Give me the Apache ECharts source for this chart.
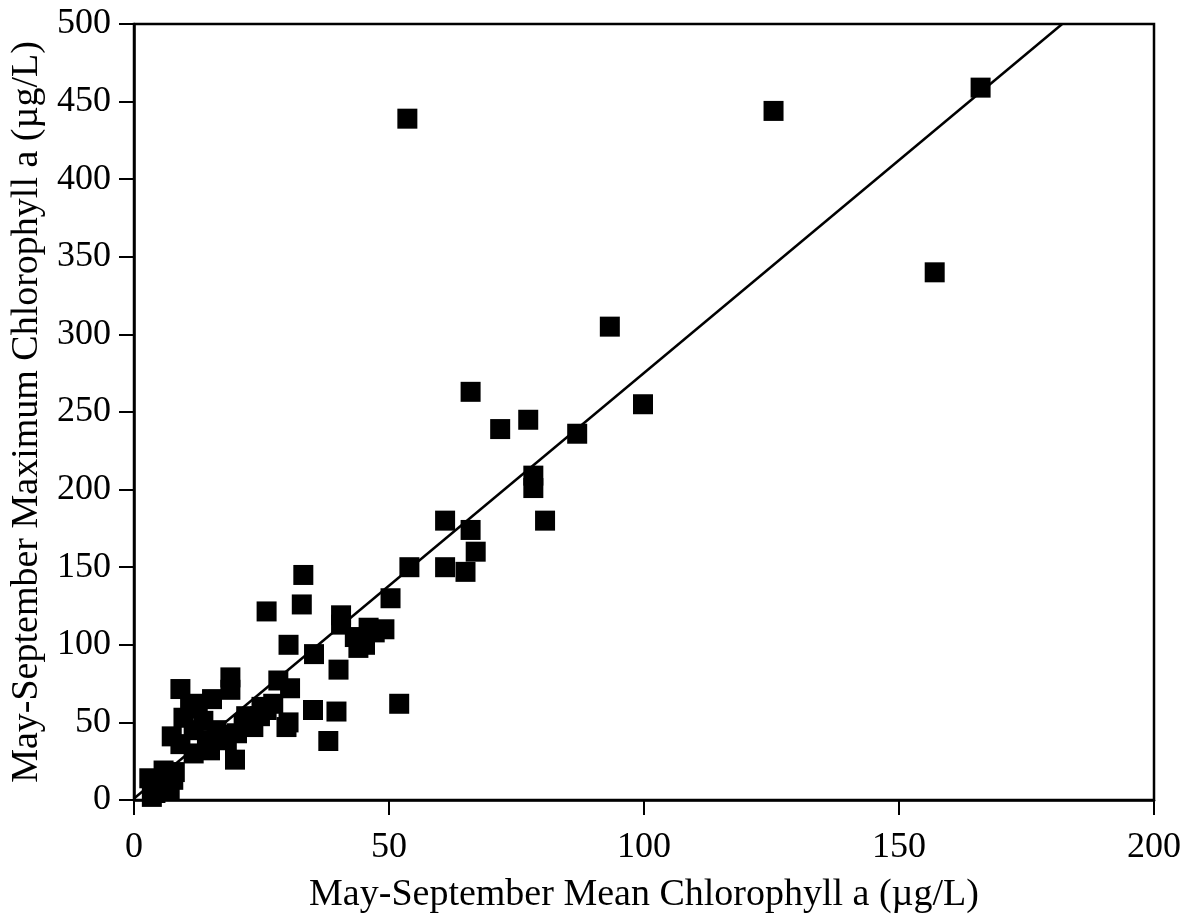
<!DOCTYPE html>
<html>
<head>
<meta charset="utf-8">
<title>Chlorophyll a: mean vs maximum</title>
<script src="https://cdn.jsdelivr.net/npm/echarts@6/dist/echarts.min.js"></script>
<style>
  html, body { margin: 0; padding: 0; background: #fff; }
  #chart { width: 1186px; height: 919px; }
</style>
</head>
<body>
<div id="chart"></div>
<script>
// May-September mean chlorophyll a (x) and maximum (y), ug/L
const meanChl = [
  53.6, 125.4, 166, 157, 93.3, 99.8, 66, 71.8, 77.3, 86.9, 78.3, 78.3, 80.6, 61, 61, 65, 66, 67, 54,
  50.3, 33.2, 32.9, 26, 40.6, 40.6, 49.1, 47.2, 45.3, 43.3, 44, 46, 30.3, 35.3, 40.1, 52, 35.1, 39.7, 38.1,
  28.3, 30.6, 29.9, 30.3, 27.3, 26, 24.7, 23.4, 21.5, 20.2, 19.8, 18.9, 18.9, 15.3, 9.1, 11, 13.6, 11.7,
  9.7, 7.4, 9.1, 11.7, 14.9, 14.3, 18.2, 16.2, 22, 25, 12.5, 17,
  4.2, 4.2, 7.7, 5.8, 3.5, 5, 6.5, 8, 3, 6, 7
];
const maxChl = [
  439, 444, 459, 340, 305, 255, 263, 239, 245, 236, 209, 201, 180, 180, 150, 147, 174, 160, 150,
  130, 145, 126, 121.5, 119, 113, 110, 108, 100, 105, 98, 111, 100, 94, 84, 62, 58, 57, 38,
  77, 72, 47, 50, 62, 58, 54, 47, 49, 43, 26, 79, 71, 65, 71.5, 59, 51, 45,
  53, 41, 36, 30, 32, 38.5, 38.5, 45, 54, 60, 62, 42,
  11, 4.5, 13, 19, 2, 8, 16, 18, 14, 10, 7
];
// fitted line, read at its two ends
const fitX = [0, 182];
const fitY = [1, 500];

const xTicks = [0, 50, 100, 150, 200];
const yTicks = [0, 50, 100, 150, 200, 250, 300, 350, 400, 450, 500];

const FONT = 'Liberation Serif';

const chart = echarts.init(document.getElementById('chart'));

const points = meanChl.map((x, i) => [x, maxChl[i]]);
const fitLine = fitX.map((x, i) => [x, fitY[i]]);

const axisCommon = {
  type: 'value',
  splitLine: { show: false },
  axisLine: { show: true, onZero: false, lineStyle: { color: '#000', width: 2.5 } },
  axisTick: { show: true, inside: false, length: 15, lineStyle: { color: '#000', width: 2 } },
  axisLabel: { color: '#000', fontFamily: FONT, fontSize: 36 },
  nameLocation: 'middle',
  nameTextStyle: { color: '#000', fontFamily: FONT, fontSize: 38 },
};

chart.setOption({
  animation: false,
  backgroundColor: '#fff',
  grid: {
    left: 132, right: 32, top: 24, bottom: 112,
    show: true, borderColor: '#000', borderWidth: 2.5,
  },
  xAxis: Object.assign({}, axisCommon, {
    min: xTicks[0],
    max: xTicks[xTicks.length - 1],
    interval: 50,
    name: 'May-September Mean Chlorophyll a (\u00b5g/L)',
    nameGap: 76,
    axisLabel: Object.assign({}, axisCommon.axisLabel, { margin: 30 }),
  }),
  yAxis: Object.assign({}, axisCommon, {
    min: yTicks[0],
    max: yTicks[yTicks.length - 1],
    interval: 50,
    name: 'May-September Maximum Chlorophyll a (\u00b5g/L)',
    nameGap: 88,
    axisLabel: Object.assign({}, axisCommon.axisLabel, { margin: 23 }),
  }),
  series: [
    {
      type: 'line',
      data: fitLine,
      symbol: 'none',
      lineStyle: { color: '#000', width: 2.5 },
      z: 3,
    },
    {
      type: 'scatter',
      data: points,
      symbol: 'rect',
      symbolSize: 20,
      itemStyle: { color: '#000', opacity: 1 },
      z: 2,
    },
  ],
});
</script>
</body>
</html>
